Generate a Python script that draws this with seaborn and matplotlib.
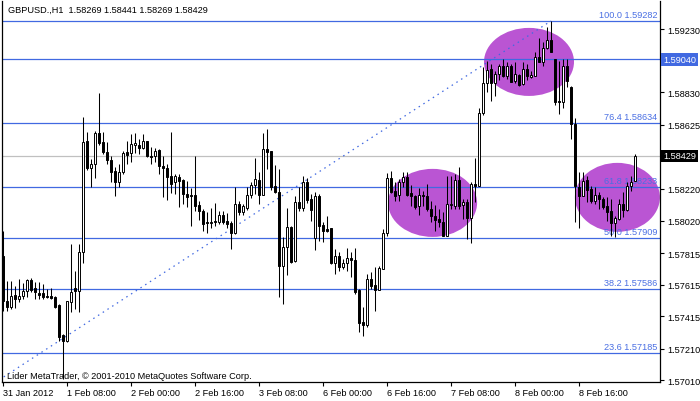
import numpy as np
import pandas as pd
import matplotlib
matplotlib.use("Agg")
import matplotlib.pyplot as plt
from matplotlib.patches import Ellipse
import seaborn as sns

# GBPUSD H1 bars, 31 Jan 2012 16:00 onwards
symbol = "GBPUSD.,H1"
opens = [
    1.57797, 1.57512, 1.57475, 1.57550, 1.57525, 1.57544, 1.57576, 1.57645, 1.57595, 1.57563,
    1.57563, 1.57544, 1.57544, 1.57538, 1.57487, 1.57297, 1.57260, 1.57506, 1.57595, 1.57576,
    1.57822, 1.58524, 1.58353, 1.58378, 1.58574, 1.58517, 1.58454, 1.58403, 1.58334, 1.58265,
    1.58328, 1.58454, 1.58448, 1.58498, 1.58498, 1.58479, 1.58524, 1.58429, 1.58429, 1.58467,
    1.58366, 1.58353, 1.58302, 1.58265, 1.58296, 1.58277, 1.58189, 1.58182, 1.58182, 1.58119,
    1.58081, 1.58012, 1.58005, 1.58018, 1.58012, 1.58056, 1.58018, 1.58005, 1.57942, 1.58125,
    1.58075, 1.58100, 1.58182, 1.58246, 1.58277, 1.58182, 1.58473, 1.58460, 1.58239, 1.58201,
    1.57734, 1.57854, 1.57980, 1.57765, 1.58138, 1.58100, 1.58265, 1.58157, 1.57911, 1.58176,
    1.57993, 1.57967, 1.57974, 1.57753, 1.57797, 1.57727, 1.57753, 1.57784, 1.57771, 1.57582,
    1.57380, 1.57361, 1.57651, 1.57614, 1.57582, 1.57715, 1.57942, 1.58290, 1.58208, 1.58182,
    1.58265, 1.58296, 1.58195, 1.58176, 1.58113, 1.58182, 1.58176, 1.58094, 1.58050, 1.58031,
    1.58012, 1.57923, 1.58119, 1.58113, 1.58277, 1.58119, 1.58138, 1.58037, 1.58252, 1.58239,
    1.58701, 1.58890, 1.58979, 1.58890, 1.58947, 1.58998, 1.58934, 1.58998, 1.58903, 1.58941,
    1.58884, 1.58979, 1.58928, 1.58934, 1.59054, 1.59023, 1.59111, 1.59162, 1.59042, 1.58776,
    1.58770, 1.58998, 1.58865, 1.58631, 1.58233, 1.58176, 1.58277, 1.58220, 1.58145, 1.58182,
    1.58157, 1.58113, 1.58081, 1.58005, 1.58031, 1.58125, 1.58087, 1.58239, 1.58269,
]
highs = [
    1.57955, 1.57639, 1.57639, 1.57607, 1.57651, 1.57626, 1.57651, 1.57658, 1.57633, 1.57633,
    1.57620, 1.57588, 1.57595, 1.57544, 1.57493, 1.57304, 1.57512, 1.57873, 1.57702, 1.57873,
    1.58675, 1.58580, 1.58410, 1.58587, 1.58827, 1.58580, 1.58517, 1.58429, 1.58359, 1.58378,
    1.58460, 1.58524, 1.58568, 1.58574, 1.58536, 1.58568, 1.58524, 1.58486, 1.58479, 1.58473,
    1.58429, 1.58378, 1.58580, 1.58315, 1.58315, 1.58283, 1.58271, 1.58227, 1.58429, 1.58145,
    1.58094, 1.58075, 1.58100, 1.58132, 1.58081, 1.58081, 1.58069, 1.58018, 1.58233, 1.58145,
    1.58125, 1.58233, 1.58265, 1.58416, 1.58328, 1.58574, 1.58599, 1.58460, 1.58372, 1.58347,
    1.57917, 1.58100, 1.57986, 1.58176, 1.58233, 1.58302, 1.58290, 1.58189, 1.58201, 1.58189,
    1.58012, 1.58050, 1.57974, 1.57841, 1.57822, 1.57778, 1.57847, 1.57822, 1.57847, 1.57588,
    1.57475, 1.57683, 1.57696, 1.57727, 1.57734, 1.57967, 1.58321, 1.58334, 1.58265, 1.58283,
    1.58328, 1.58328, 1.58246, 1.58182, 1.58227, 1.58208, 1.58252, 1.58145, 1.58119, 1.58094,
    1.58075, 1.58302, 1.58302, 1.58315, 1.58359, 1.58157, 1.58157, 1.58265, 1.58416, 1.58732,
    1.58991, 1.59029, 1.59010, 1.58966, 1.59010, 1.59042, 1.59023, 1.59010, 1.59023, 1.58947,
    1.59023, 1.59010, 1.58966, 1.59086, 1.59175, 1.59149, 1.59244, 1.59282, 1.59042, 1.59029,
    1.59042, 1.59042, 1.58871, 1.58669, 1.58328, 1.58328, 1.58302, 1.58239, 1.58233, 1.58201,
    1.58170, 1.58170, 1.58157, 1.58050, 1.58157, 1.58201, 1.58265, 1.58302, 1.58441,
]
lows = [
    1.57449, 1.57449, 1.57462, 1.57468, 1.57506, 1.57525, 1.57538, 1.57569, 1.57525, 1.57525,
    1.57525, 1.57531, 1.57525, 1.57468, 1.57260, 1.57019, 1.57253, 1.57443, 1.57462, 1.57443,
    1.57753, 1.58340, 1.58233, 1.58290, 1.58498, 1.58441, 1.58378, 1.58265, 1.58176, 1.58233,
    1.58315, 1.58378, 1.58391, 1.58448, 1.58441, 1.58473, 1.58422, 1.58378, 1.58391, 1.58315,
    1.58170, 1.58151, 1.58195, 1.58189, 1.58106, 1.58125, 1.58106, 1.57986, 1.58081, 1.58024,
    1.57955, 1.57942, 1.57974, 1.57986, 1.57999, 1.57999, 1.57974, 1.57841, 1.57936, 1.58056,
    1.58056, 1.58087, 1.58164, 1.58189, 1.58125, 1.58182, 1.58347, 1.58214, 1.58195, 1.57538,
    1.57493, 1.57677, 1.57753, 1.57759, 1.58081, 1.58081, 1.58132, 1.58018, 1.57835, 1.57892,
    1.57885, 1.57948, 1.57746, 1.57683, 1.57702, 1.57715, 1.57702, 1.57664, 1.57557, 1.57316,
    1.57291, 1.57348, 1.57588, 1.57449, 1.57582, 1.57715, 1.57923, 1.58195, 1.58145, 1.58145,
    1.58233, 1.58176, 1.58113, 1.58094, 1.58056, 1.58113, 1.58081, 1.58012, 1.57955, 1.57980,
    1.57923, 1.57923, 1.58094, 1.58094, 1.58094, 1.58031, 1.57904, 1.57879, 1.58138, 1.58239,
    1.58688, 1.58833, 1.58776, 1.58808, 1.58909, 1.58928, 1.58915, 1.58896, 1.58890, 1.58871,
    1.58877, 1.58909, 1.58922, 1.58934, 1.59023, 1.58998, 1.59105, 1.59086, 1.58751, 1.58694,
    1.58732, 1.58865, 1.58536, 1.58012, 1.57974, 1.58176, 1.58138, 1.58132, 1.58125, 1.58094,
    1.58094, 1.58018, 1.57923, 1.57917, 1.58024, 1.58043, 1.58081, 1.58208, 1.58269,
]
closes = [
    1.57512, 1.57475, 1.57544, 1.57525, 1.57544, 1.57576, 1.57645, 1.57582, 1.57569, 1.57550,
    1.57538, 1.57538, 1.57531, 1.57475, 1.57285, 1.57260, 1.57512, 1.57569, 1.57576, 1.57822,
    1.58517, 1.58353, 1.58378, 1.58574, 1.58511, 1.58454, 1.58403, 1.58328, 1.58265, 1.58328,
    1.58448, 1.58435, 1.58505, 1.58511, 1.58479, 1.58524, 1.58429, 1.58422, 1.58460, 1.58366,
    1.58353, 1.58296, 1.58252, 1.58302, 1.58271, 1.58189, 1.58170, 1.58176, 1.58113, 1.58081,
    1.57999, 1.58005, 1.58012, 1.58012, 1.58056, 1.58012, 1.57999, 1.57942, 1.58125, 1.58075,
    1.58113, 1.58182, 1.58246, 1.58283, 1.58182, 1.58473, 1.58454, 1.58233, 1.58201, 1.57734,
    1.57854, 1.57980, 1.57759, 1.58138, 1.58100, 1.58265, 1.58151, 1.58087, 1.58176, 1.57986,
    1.57955, 1.57955, 1.57753, 1.57797, 1.57727, 1.57753, 1.57784, 1.57771, 1.57569, 1.57373,
    1.57361, 1.57651, 1.57607, 1.57582, 1.57721, 1.57942, 1.58290, 1.58201, 1.58176, 1.58265,
    1.58296, 1.58182, 1.58176, 1.58106, 1.58182, 1.58176, 1.58094, 1.58050, 1.58024, 1.58012,
    1.57923, 1.58125, 1.58125, 1.58277, 1.58113, 1.58138, 1.58037, 1.58252, 1.58239, 1.58701,
    1.58890, 1.58972, 1.58890, 1.58947, 1.58998, 1.58934, 1.58998, 1.58896, 1.58947, 1.58877,
    1.58979, 1.58934, 1.58941, 1.59054, 1.59023, 1.59111, 1.59162, 1.59086, 1.58770, 1.58770,
    1.58998, 1.58903, 1.58631, 1.58239, 1.58176, 1.58271, 1.58214, 1.58145, 1.58182, 1.58157,
    1.58106, 1.58075, 1.58005, 1.58037, 1.58125, 1.58087, 1.58239, 1.58265, 1.58429,
]

tick_bars = [0, 16, 32, 48, 64, 80, 96, 112, 128, 144]
tick_names = ["31 Jan 2012", "1 Feb 08:00", "2 Feb 00:00", "2 Feb 16:00", "3 Feb 08:00",
              "6 Feb 00:00", "6 Feb 16:00", "7 Feb 08:00", "8 Feb 00:00", "8 Feb 16:00"]
price_ticks = [1.59230, 1.58830, 1.58625, 1.58220, 1.58020, 1.57815,
               1.57615, 1.57415, 1.57210, 1.57010]

# fibonacci retracement object
fib_ratios = [100.0, 76.4, 61.8, 50.0, 38.2, 23.6]
fib_prices = [1.59282, 1.58634, 1.58233, 1.57909, 1.57586, 1.57185]
fib_anchor_bars = [-30, 137]
fib_anchor_prices = [1.56536, 1.59282]

hline_price = 1.59040
bid_price = 1.58429

# ellipse objects: centre bar, centre price, width (bars), height (price)
ell_bars = [131.5, 107.4, 153.6]
ell_prices = [1.59023, 1.58132, 1.58167]
ell_widths = [22.5, 22.25, 21.25]
ell_heights = [0.00430, 0.00430, 0.00436]

BLUE = "#4169E1"
ORCHID = "#BA55D3"

sns.set_style("white")
plt.rcParams['font.family'] = ['Liberation Sans', 'DejaVu Sans']
FS = 6.6

df = pd.DataFrame({"bar": np.arange(len(opens)), "open": opens, "high": highs,
                   "low": lows, "close": closes})
up = df["close"] >= df["open"]

fig = plt.figure(figsize=(7, 4.02), dpi=100)
ax = fig.add_axes([2 / 700, 1 - 383 / 402, 658 / 700, 381 / 402])

for cx, cy, w, h in zip(ell_bars, ell_prices, ell_widths, ell_heights):
    ax.add_patch(Ellipse((cx, cy), w, h, facecolor=ORCHID, edgecolor="none", zorder=1))

# fib levels + labels
for r, p in zip(fib_ratios, fib_prices):
    ax.axhline(p, color=BLUE, lw=0.9, zorder=2)
    ax.annotate(f"{r:.1f} {p:.5f}", xy=(163.6, p), xytext=(0, 1.5), textcoords="offset points",
                ha="right", va="bottom", fontsize=FS, color="#4A6FE3", zorder=2)
ax.axhline(hline_price, color=BLUE, lw=0.9, zorder=2)
ax.axhline(bid_price, color="#C0C0C0", lw=0.9, zorder=2)

sns.lineplot(x=fib_anchor_bars, y=fib_anchor_prices, ax=ax, color=BLUE, lw=0.9,
             linestyle=(0, (1.2, 3.3)), zorder=2)

# candles
ax.vlines(df["bar"], df["low"], df["high"], color="black", lw=0.75, zorder=3)
body = (df["close"] - df["open"]).abs().clip(lower=0.000015)
ax.bar(df["bar"], body, bottom=df[["open", "close"]].min(axis=1), width=0.55,
       color=np.where(up, "white", "black"), edgecolor="black", linewidth=0.7, zorder=4)

ax.set_xlim(-0.25, 164.25)
ax.set_ylim(1.57000, 1.59408)

ax.yaxis.tick_right()
ax.set_yticks(price_ticks)
ax.set_yticklabels([f"{p:.5f}" for p in price_ticks])
ax.tick_params(axis="y", left=False, right=True, labelleft=False, labelright=True,
               direction="out", length=3, width=0.8, pad=2, labelsize=FS, colors="black")
ax.set_xticks(tick_bars)
ax.set_xticklabels(tick_names)
plt.setp(ax.get_xticklabels(), ha="left")
ax.tick_params(axis="x", bottom=True, direction="out", length=3, width=0.8, pad=1.5,
               labelsize=FS, colors="black")
for side in ["left", "right", "bottom"]:
    ax.spines[side].set_color("black")
    ax.spines[side].set_linewidth(0.9)
ax.spines["top"].set_visible(False)
ax.set_xlabel("")
ax.set_ylabel("")

# price boxes on the right scale
tr = ax.get_yaxis_transform()
ax.text(1.0 + 3 / 658, hline_price, f"{hline_price:.5f}", transform=tr, ha="left", va="center",
        fontsize=FS, color="white", clip_on=False,
        bbox=dict(boxstyle="square,pad=0.2", fc=BLUE, ec="none"))
ax.text(1.0 + 3 / 658, bid_price, f"{bid_price:.5f}", transform=tr, ha="left", va="center",
        fontsize=FS, color="white", clip_on=False,
        bbox=dict(boxstyle="square,pad=0.2", fc="black", ec="none"))

last = df.iloc[-1]
fig.text(8 / 700, 1 - 10 / 402,
         f"{symbol}  {last['open']:.5f} {last['high']:.5f} {last['low']:.5f} {last['close']:.5f}",
         ha="left", va="center", fontsize=FS, color="black")
fig.text(7 / 700, 1 - 377 / 402, "Lider MetaTrader, \u00a9 2001-2010 MetaQuotes Software Corp.",
         ha="left", va="center", fontsize=FS, color="black")

fig.savefig("out.png", dpi=100)
